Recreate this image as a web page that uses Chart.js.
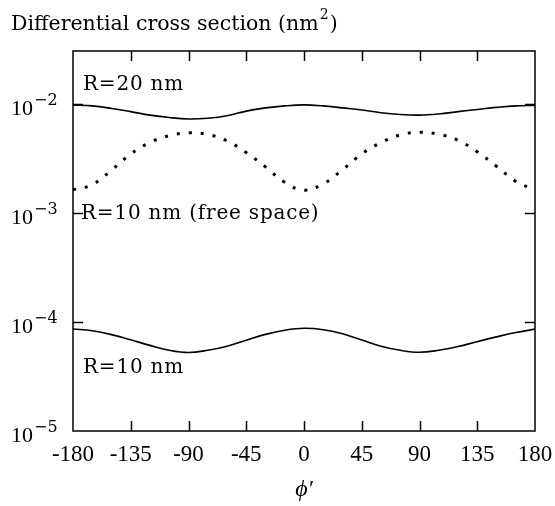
<!DOCTYPE html>
<html lang="en">
<head>
  <meta charset="UTF-8">
  <title>Differential cross section</title>
  <script src="https://cdn.jsdelivr.net/npm/chart.js"></script>
  <style>
    body { margin: 0; background: #ffffff; }
    #wrap { position: relative; width: 555px; height: 506px; }
  </style>
</head>
<body>
  <div id="wrap"><canvas id="chart"></canvas></div>

  <script>
    // angle phi' in degrees
    const phi = [-180, -165, -150, -135, -120, -105, -90, -75, -60, -45, -30, -15, 0,
                 15, 30, 45, 60, 75, 90, 105, 120, 135, 150, 165, 180];

    // R = 20 nm (solid, top)
    const r20 = [0.0098, 0.0096, 0.0091, 0.0085, 0.0079, 0.0075, 0.00728, 0.0074, 0.0078,
                 0.0086, 0.0092, 0.0096, 0.0098, 0.0096, 0.0092, 0.0088, 0.0083, 0.0080,
                 0.0079, 0.0081, 0.0085, 0.0089, 0.0093, 0.0096, 0.0097];

    // R = 10 nm in free space (dotted)
    const r10Free = [0.00163, 0.00182, 0.00247, 0.00348, 0.00444, 0.00512, 0.00543, 0.00525,
                     0.00458, 0.00358, 0.00265, 0.00191, 0.00162, 0.00185, 0.00249, 0.00348,
                     0.00442, 0.00521, 0.00550, 0.00528, 0.00464, 0.00364, 0.00268, 0.00195,
                     0.00163];

    // R = 10 nm (solid, bottom)
    const r10 = [8.63e-5, 8.3e-5, 7.66e-5, 6.86e-5, 6.1e-5, 5.5e-5, 5.25e-5, 5.5e-5, 6.0e-5,
                 6.8e-5, 7.7e-5, 8.4e-5, 8.75e-5, 8.5e-5, 7.8e-5, 6.85e-5, 6.0e-5, 5.5e-5,
                 5.27e-5, 5.5e-5, 5.95e-5, 6.6e-5, 7.3e-5, 8.0e-5, 8.6e-5];

    const xTicks = [-180, -135, -90, -45, 0, 45, 90, 135, 180];
    const yTicks = [1e-5, 1e-4, 1e-3, 1e-2];
    const curveNotes = ['R=20 nm', 'R=10 nm (free space)', 'R=10 nm'];

    const serif = "'Liberation Serif', 'DejaVu Serif', serif";
    const wide = "'DejaVu Serif', serif";
    const toPoints = (vals) => phi.map((p, i) => ({ x: p, y: vals[i] }));

    // frame, inward ticks, log labels and curve notes
    const framePlugin = {
      id: 'frame',
      afterDraw(chart) {
        const { ctx, chartArea: a, scales: { x, y } } = chart;
        ctx.save();
        ctx.strokeStyle = '#000';
        ctx.lineWidth = 1.5;
        ctx.strokeRect(a.left, a.top, a.right - a.left, a.bottom - a.top);

        const tl = 10;
        ctx.beginPath();
        xTicks.slice(1, -1).forEach(t => {
          const px = Math.round(x.getPixelForValue(t)) + 0.5;
          ctx.moveTo(px, a.bottom); ctx.lineTo(px, a.bottom - tl);
          ctx.moveTo(px, a.top); ctx.lineTo(px, a.top + tl);
        });
        yTicks.slice(1).forEach(t => {
          const py = Math.round(y.getPixelForValue(t)) + 0.5;
          ctx.moveTo(a.left, py); ctx.lineTo(a.left + tl, py);
          ctx.moveTo(a.right, py); ctx.lineTo(a.right - tl, py);
        });
        ctx.stroke();

        // y labels: 10 with raised exponent
        ctx.fillStyle = '#000';
        ctx.textBaseline = 'alphabetic';
        ctx.textAlign = 'left';
        yTicks.forEach(t => {
          const py = y.getPixelForValue(t);
          const e = Math.round(Math.log10(t));
          ctx.font = `22px ${serif}`;
          ctx.fillText('10', 11, py + 11);
          ctx.font = `16px ${wide}`;
          ctx.fillText('\u2212' + Math.abs(e), 34, py + 1);
        });

        // title
        ctx.font = `20.5px ${wide}`;
        const t1 = 'Differential cross section (nm';
        ctx.fillText(t1, 11, 30);
        let w = ctx.measureText(t1).width + 11;
        ctx.font = `14px ${wide}`;
        ctx.fillText('2', w + 1, 19);
        w += ctx.measureText('2').width + 2;
        ctx.font = `20.5px ${wide}`;
        ctx.fillText(')', w, 30);

        // curve notes
        ctx.font = `20px ${wide}`;
        ctx.letterSpacing = '0.8px';
        ctx.fillText(curveNotes[0], 83, 90);
        ctx.fillText(curveNotes[1], 81, 219);
        ctx.fillText(curveNotes[2], 83, 373);
        ctx.restore();
      }
    };

    new Chart(document.getElementById('chart'), {
      type: 'line',
      data: {
        datasets: [
          { label: 'R=20 nm', data: toPoints(r20), borderColor: '#000', borderWidth: 1.6,
            pointRadius: 0, tension: 0.4, fill: false },
          { label: 'R=10 nm (free space)', data: toPoints(r10Free), borderColor: '#000',
            borderWidth: 3, borderDash: [3, 9], borderCapStyle: 'butt',
            pointRadius: 0, tension: 0.4, fill: false },
          { label: 'R=10 nm', data: toPoints(r10), borderColor: '#000', borderWidth: 1.6,
            pointRadius: 0, tension: 0.4, fill: false }
        ]
      },
      options: {
        responsive: true,
        maintainAspectRatio: false,
        animation: false,
        layout: { padding: { top: 51, right: 20, left: 0, bottom: 0 } },
        plugins: { legend: { display: false }, tooltip: { enabled: false } },
        scales: {
          x: {
            type: 'linear',
            min: -180, max: 180,
            afterBuildTicks: s => { s.ticks = xTicks.map(v => ({ value: v })); },
            afterFit: s => { s.height = 75; s.paddingLeft = 0; s.paddingRight = 0; },
            grid: { display: false, drawTicks: false },
            border: { display: false },
            ticks: { color: '#000', padding: 10, font: { family: serif, size: 23 },
                     maxRotation: 0, callback: v => String(v) },
            title: { display: true, text: '\u03D5\u2032', color: '#000',
                     font: { family: serif, size: 24, style: 'italic' },
                     padding: { top: 0, bottom: 2 } }
          },
          y: {
            type: 'logarithmic',
            min: 1e-5, max: 0.0306,
            afterBuildTicks: s => { s.ticks = yTicks.map(v => ({ value: v })); },
            afterFit: s => { s.width = 73; },
            grid: { display: false, drawTicks: false },
            border: { display: false },
            ticks: { display: false }
          }
        }
      },
      plugins: [framePlugin]
    });
  </script>
</body>
</html>
